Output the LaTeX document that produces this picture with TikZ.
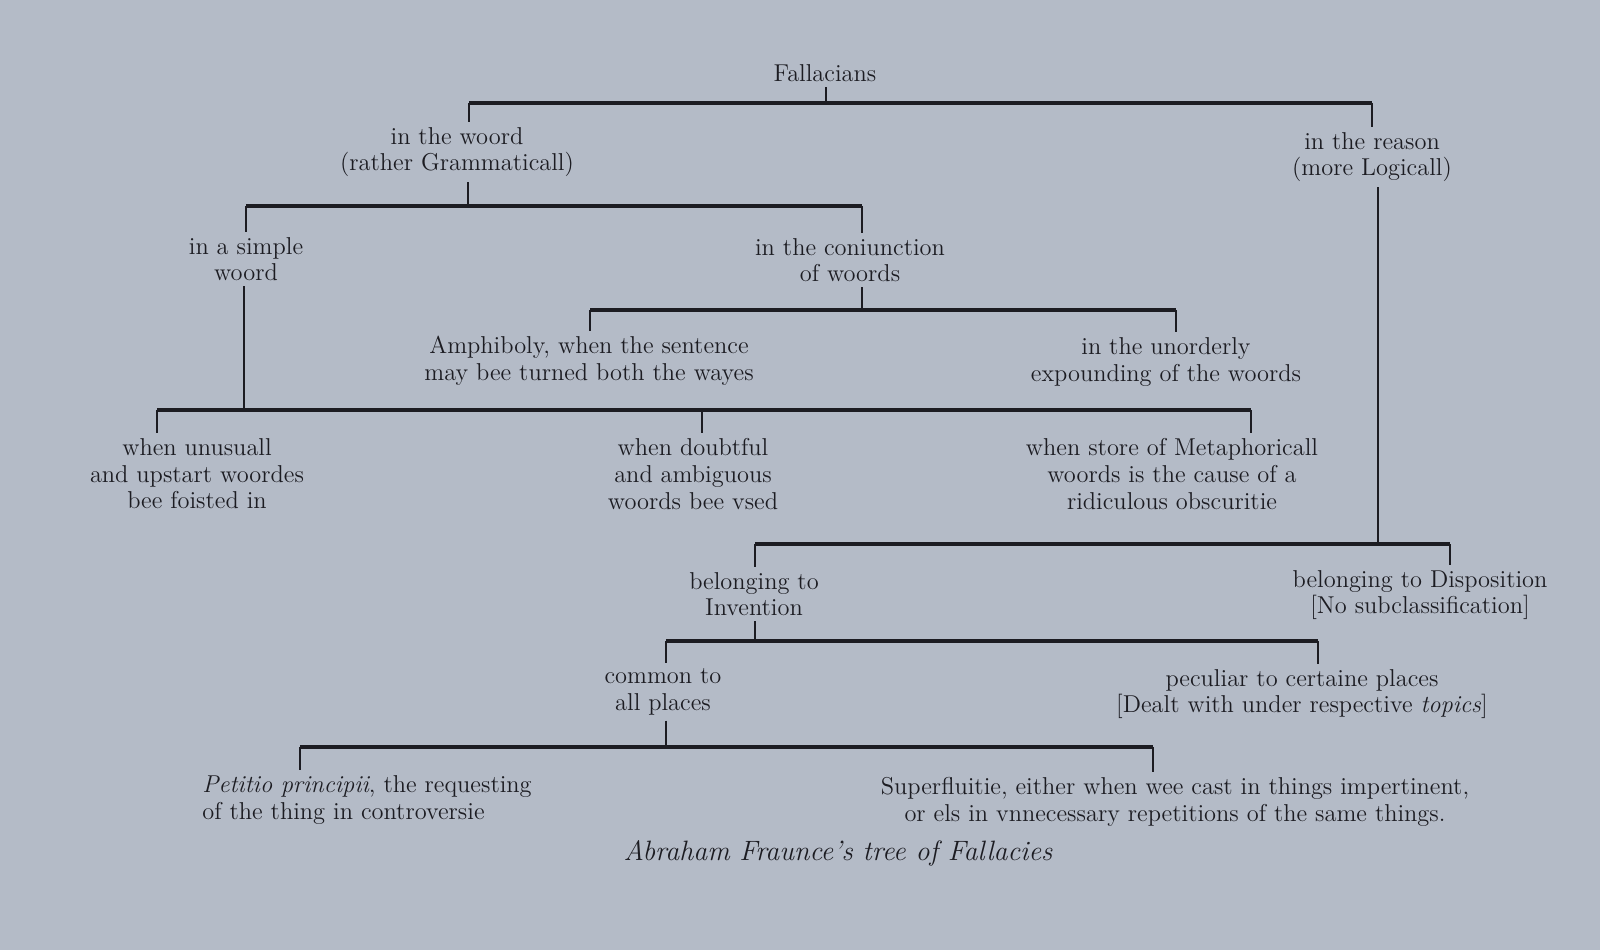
\documentclass[tikz,border=0pt]{standalone}
\definecolor{paper}{RGB}{180,187,199}
\definecolor{ink}{RGB}{28,28,34}
\newcommand{\treefont}{\fontsize{12.2}{13.3}\selectfont}
\newcommand{\capfont}{\fontsize{14}{16}\selectfont\itshape}
\tikzset{
  lbl/.style={align=center, font=\treefont, text=ink, inner sep=2.5pt},
  bar/.style={line width=2pt, draw=ink},
  stem/.style={line width=1pt, draw=ink},
}
\begin{document}
\begin{tikzpicture}[x=0.5pt,y=-0.5pt]
\fill[paper] (0,0) rectangle (1600,950);
\useasboundingbox (0,0) rectangle (1600,950);

% nodes
\node[lbl] (fall) at (825,73) {Fallacians};
\node[lbl] (woord) at (457,152) {in the woord\\(rather Grammaticall)};
\node[lbl] (reason) at (1372,157) {in the reason\\(more Logicall)};
\node[lbl] (simple) at (246,259) {in a simple\\woord};
\node[lbl] (coni) at (850,260) {in the coniunction\\of woords};
\node[lbl] (amph) at (589,361) {Amphiboly, when the sentence\\may bee turned both the wayes};
\node[lbl] (unord) at (1166,362) {in the unorderly\\expounding of the woords};
\node[lbl] (unus) at (197,474) {when unusuall\\and upstart woordes\\bee foisted in};
\node[lbl] (doubt) at (693,474) {when doubtful\\and ambiguous\\woords bee vsed};
\node[lbl] (meta) at (1172,474) {when store of Metaphoricall\\woords is the cause of a\\ridiculous obscuritie};
\node[lbl] (invent) at (754,594) {belonging to\\Invention};
\node[lbl] (dispo) at (1420,595) {belonging to Disposition\\{[}No subclassification{]}};
\node[lbl] (common) at (663,692) {common to\\all places};
\node[lbl] (pecul) at (1302,694) {peculiar to certaine places\\{[}Dealt with under respective \textit{topics}{]}};
\node[lbl, align=left, anchor=west] (petit) at (197,800) {\textit{Petitio principii}, the requesting\\of the thing in controversie};
\node[lbl] (superf) at (1175,802) {Superfluitie, either when wee cast in things impertinent,\\or els in vnnecessary repetitions of the same things.};
\node[font=\capfont, text=ink, inner sep=0pt] (cap) at (838,853) {Abraham Fraunce’s tree of Fallacies};

% junction coordinates
\coordinate (j1) at (826,103);
\coordinate (j1a) at (469,103);
\coordinate (j1b) at (1372,103);
\coordinate (j2) at (468,206);
\coordinate (j2a) at (246,206);
\coordinate (j2b) at (862,206);
\coordinate (j3) at (862,310);
\coordinate (j3a) at (590,310);
\coordinate (j3b) at (1176,310);
\coordinate (j4) at (244,410);
\coordinate (j4a) at (157,410);
\coordinate (j4b) at (702,410);
\coordinate (j4c) at (1251,410);
\coordinate (j5) at (1378,544);
\coordinate (j5a) at (755,544);
\coordinate (j5b) at (1450,544);
\coordinate (j6) at (755,641);
\coordinate (j6a) at (666,641);
\coordinate (j6b) at (1318,641);
\coordinate (j7) at (666,747);
\coordinate (j7a) at (300,747);
\coordinate (j7b) at (1153,747);

% level 1
\draw[stem] (fall.south -| j1) -- (j1);
\draw[bar] (j1a) -- (j1b);
\draw[stem] (j1a) -- (j1a |- woord.north);
\draw[stem] (j1b) -- (j1b |- reason.north);
% level 2
\draw[stem] (woord.south -| j2) -- (j2);
\draw[bar] (j2a) -- (j2b);
\draw[stem] (j2a) -- (j2a |- simple.north);
\draw[stem] (j2b) -- (j2b |- coni.north);
% level 3
\draw[stem] (coni.south -| j3) -- (j3);
\draw[bar] (j3a) -- (j3b);
\draw[stem] (j3a) -- (j3a |- amph.north);
\draw[stem] (j3b) -- (j3b |- unord.north);
% level 4
\draw[stem] (simple.south -| j4) -- (j4);
\draw[bar] (j4a) -- (j4c);
\draw[stem] (j4a) -- (j4a |- unus.north);
\draw[stem] (j4b) -- (j4b |- doubt.north);
\draw[stem] (j4c) -- (j4c |- meta.north);
% reason branch
\draw[stem] (reason.south -| j5) -- (j5);
\draw[bar] (j5a) -- (j5b);
\draw[stem] (j5a) -- (j5a |- invent.north);
\draw[stem] (j5b) -- (j5b |- dispo.north);
% invention
\draw[stem] (invent.south -| j6) -- (j6);
\draw[bar] (j6a) -- (j6b);
\draw[stem] (j6a) -- (j6a |- common.north);
\draw[stem] (j6b) -- (j6b |- pecul.north);
% common
\draw[stem] (common.south -| j7) -- (j7);
\draw[bar] (j7a) -- (j7b);
\draw[stem] (j7a) -- (j7a |- petit.north);
\draw[stem] (j7b) -- (j7b |- superf.north);
\end{tikzpicture}
\end{document}
